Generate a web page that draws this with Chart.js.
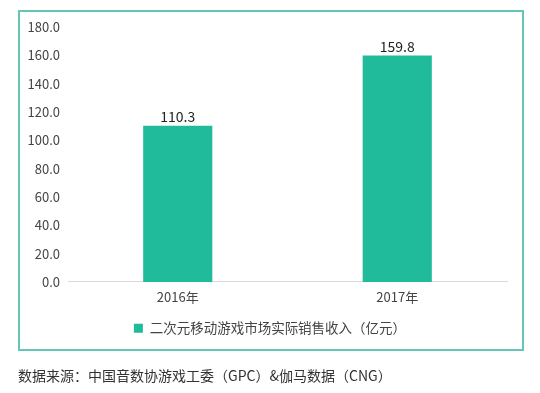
<!DOCTYPE html>
<html>
<head>
<meta charset="utf-8">
<script src="https://cdn.jsdelivr.net/npm/chart.js@4"></script>
<style>
  body { margin: 0; background: #fff; font-family: "Noto Sans CJK SC", sans-serif; }
  #wrap { position: relative; width: 540px; height: 393px; }
  #box { position: absolute; left: 18px; top: 10px; width: 502px; height: 337px; border: 2px solid #63c6b7; }
  #chart { position: absolute; left: 0; top: 0; }
  #source { position: absolute; left: 18px; top: 365px; font-size: 14px; color: #333; white-space: nowrap; }
</style>
</head>
<body>
<div id="wrap">
  <div id="box"></div>
  <canvas id="chart" width="540" height="393"></canvas>
  <div id="source">数据来源：中国音数协游戏工委（GPC）&amp;伽马数据（CNG）</div>
</div>
<script>
const years = ["2016年", "2017年"];
const revenue = [110.3, 159.8];
const seriesName = "二次元移动游戏市场实际销售收入（亿元）";

const FONT = "'Noto Sans CJK SC', 'Noto Sans', sans-serif";

// draw value above each bar
const valueLabels = {
  id: "valueLabels",
  afterDatasetsDraw(chart) {
    const ctx = chart.ctx;
    const meta = chart.getDatasetMeta(0);
    ctx.save();
    ctx.font = "14px " + FONT;
    ctx.fillStyle = "#222";
    ctx.textAlign = "center";
    ctx.textBaseline = "bottom";
    meta.data.forEach((bar, i) => {
      ctx.fillText(revenue[i].toFixed(1), bar.x, bar.y - 2);
    });
    ctx.restore();
  },
};

const ctxBar = document.getElementById("chart");

new Chart(ctxBar, {
  type: "bar",
  data: {
    labels: years,
    datasets: [
      {
        label: seriesName,
        data: revenue,
        backgroundColor: "#1fbb9b",
        barPercentage: 0.63,
        categoryPercentage: 0.5,
      },
    ],
  },
  options: {
    responsive: false,
    animation: false,
    layout: { padding: { top: 27, bottom: 48, left: 0, right: 0 } },
    plugins: {
      legend: {
        position: "bottom",
        labels: {
          boxWidth: 9,
          boxHeight: 9,
          color: "#444",
          font: { family: FONT, size: 13.5 },
          padding: 10,
        },
      },
      tooltip: { enabled: false },
    },
    scales: {
      x: {
        grid: { display: false, tickLength: 0 },
        border: { color: "#d9d9d9", width: 1 },
        ticks: { color: "#444", font: { family: FONT, size: 13 }, padding: 7 },
      },
      y: {
        min: 0,
        max: 180,
        grid: { display: false, tickLength: 0 },
        border: { display: false },
        afterFit: (s) => { s.width = 68; },
        ticks: {
          stepSize: 20,
          padding: 8,
          color: "#444",
          font: { family: FONT, size: 13 },
          callback: (v) => v.toFixed(1),
        },
      },
      yRight: {
        position: "right",
        grid: { display: false },
        border: { display: false },
        ticks: { display: false },
        afterFit: (s) => { s.width = 33; },
      },
    },
  },
  plugins: [valueLabels],
});
</script>
</body>
</html>
